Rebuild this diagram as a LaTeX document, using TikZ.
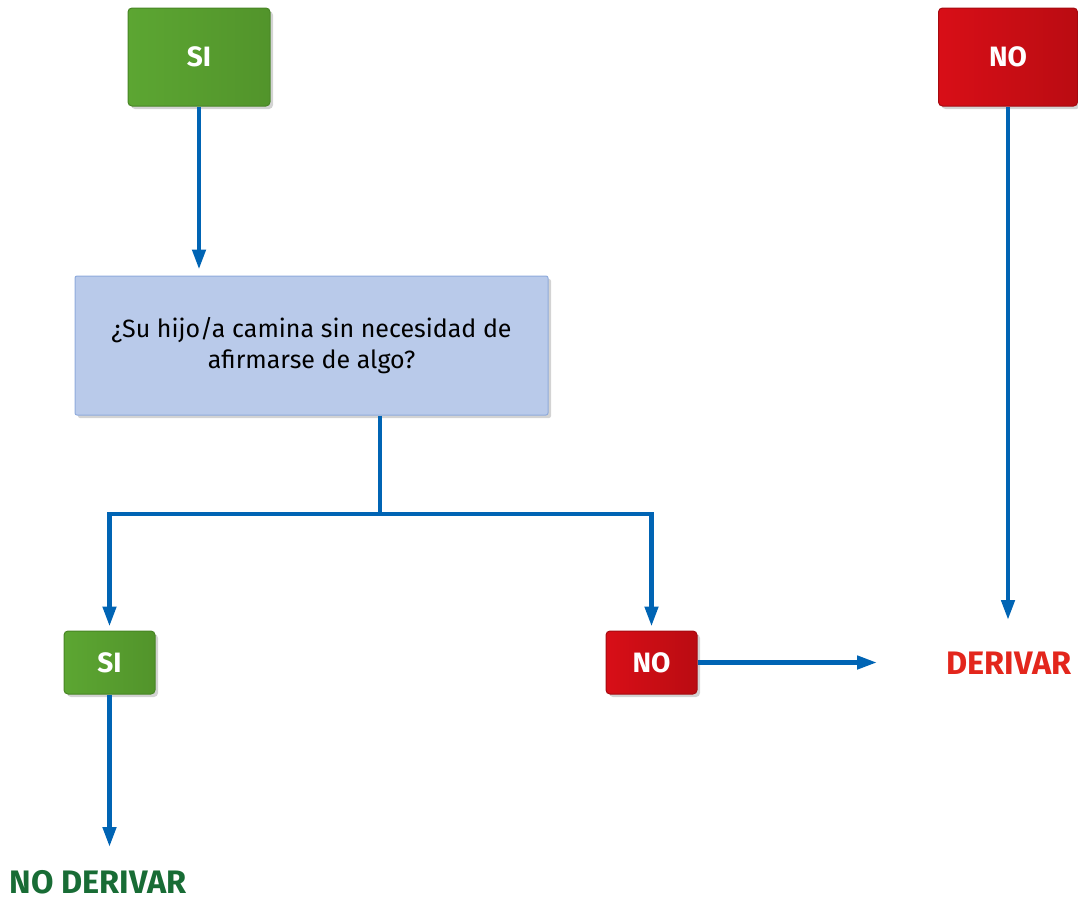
\documentclass[tikz,border=0pt]{standalone}
\usepackage{fontspec}
\setmainfont{Fira Sans}
\usetikzlibrary{arrows.meta,shadows}
\definecolor{flow}{HTML}{0064B4}
\definecolor{gA}{HTML}{5CA632}
\definecolor{gB}{HTML}{52942B}
\definecolor{gE}{HTML}{478524}
\definecolor{rA}{HTML}{D80E17}
\definecolor{rB}{HTML}{BA0C12}
\definecolor{rE}{HTML}{A50A10}
\definecolor{qF}{HTML}{B9CAEA}
\definecolor{qE}{HTML}{8FABDC}
\definecolor{txG}{HTML}{186C35}
\definecolor{txR}{HTML}{E3261C}
\tikzset{
  yesbox/.style={draw=gE, line width=1pt, rounded corners=4pt, left color=gA, right color=gB,
    drop shadow={shadow xshift=3pt, shadow yshift=-3pt, opacity=0.35}, text=white,
    font=\fontsize{28}{30}\selectfont\bfseries, inner sep=0pt},
  nobox/.style={draw=rE, line width=1pt, rounded corners=4pt, left color=rA, right color=rB,
    drop shadow={shadow xshift=3pt, shadow yshift=-3pt, opacity=0.35}, text=white,
    font=\fontsize{28}{30}\selectfont\bfseries, inner sep=0pt},
  qbox/.style={draw=qE, line width=1pt, rounded corners=2pt, fill=qF,
    drop shadow={shadow xshift=3pt, shadow yshift=-3pt, opacity=0.35},
    font=\fontsize{25}{31}\selectfont, align=center, inner sep=0pt},
  conn/.style={draw=flow, line width=4.5pt},
  arr/.style={conn, -{Triangle[length=20pt,width=13pt]}},
  outG/.style={text=txG, font=\fontsize{32.5}{34}\selectfont\bfseries, inner sep=0pt},
  outR/.style={text=txR, font=\fontsize{32.5}{34}\selectfont\bfseries, inner sep=0pt},
}
\begin{document}
\begin{tikzpicture}[x=1pt,y=-1pt]
\useasboundingbox (0,0) rectangle (1078,900);
\node[yesbox, minimum width=142pt, minimum height=98pt] (si1) at (199,57) {SI};
\node[nobox, minimum width=139pt, minimum height=98pt] (no1) at (1008,57) {NO};
\node[qbox, minimum width=473pt, minimum height=139pt] (q) at (311.5,345.5)
  {¿Su hijo/a camina sin necesidad de\\afirmarse de algo?};
\node[yesbox, minimum width=91pt, minimum height=63pt] (si2) at (109.5,662.5) {SI};
\node[nobox, minimum width=91pt, minimum height=63pt] (no2) at (651.5,662.5) {NO};
\node[outR] (der) at (1009,663) {DERIVAR};
\node[outG] (noder) at (98,882) {NO DERIVAR};
\coordinate (j) at (380,514);
\coordinate (dtip) at (877,662.5);
\draw[arr] (si1.south) -- ([yshift=6pt]q.north -| si1.south);
\draw[arr] (no1.south) -- (1008,620);
\draw[conn] (q.south -| j) -- (j);
\draw[arr] (j) -| ([yshift=4pt]si2.north);
\draw[arr] (j) -| ([yshift=4pt]no2.north);
\draw[arr] (no2.east) -- (dtip);
\draw[arr] (si2.south) -- (109.5,847);
\end{tikzpicture}
\end{document}
